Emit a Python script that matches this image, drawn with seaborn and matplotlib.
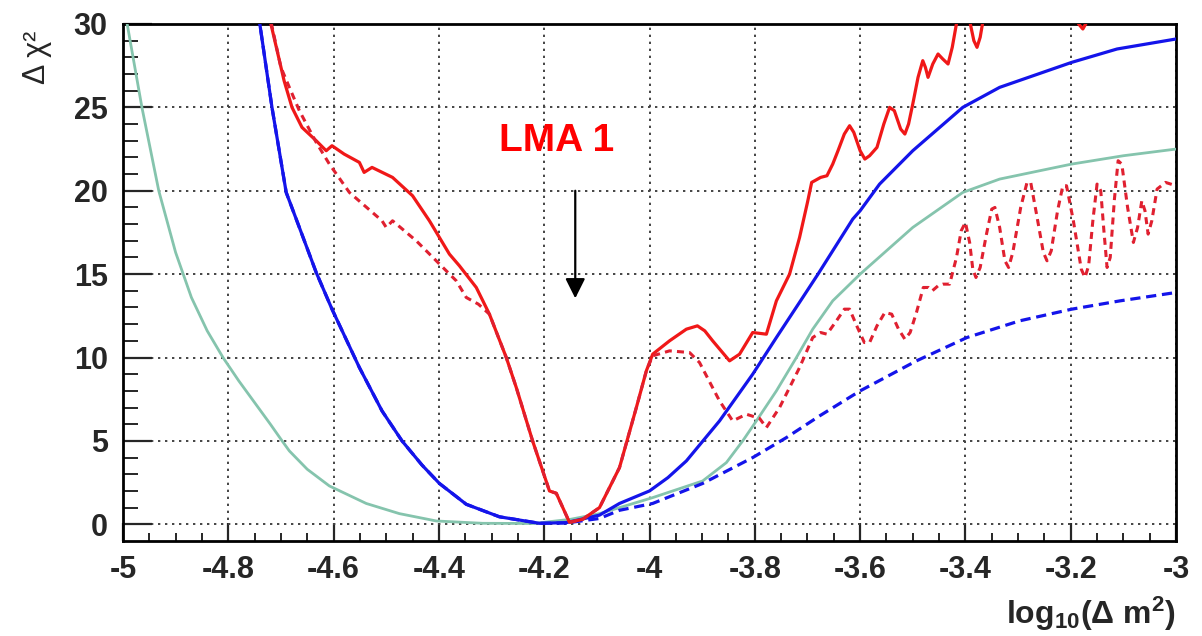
import matplotlib
matplotlib.use("Agg")
import matplotlib.pyplot as plt
import seaborn as sns
import pandas as pd

# ---------------- data ----------------
teal_x = [-5.0, -4.992, -4.964, -4.932, -4.90, -4.87, -4.84, -4.81, -4.78, -4.75, -4.72,
          -4.70, -4.684, -4.65, -4.608, -4.538, -4.475, -4.405, -4.317, -4.22, -4.15,
          -4.095, -4.057, -3.994, -3.899, -3.854, -3.823, -3.797, -3.759, -3.721, -3.69,
          -3.652, -3.60, -3.50, -3.405, -3.335, -3.198, -3.10, -3.0]
teal_y = [31.2, 30.0, 25.0, 20.0, 16.3, 13.6, 11.6, 10.0, 8.6, 7.3, 6.0,
          5.1, 4.4, 3.3, 2.3, 1.25, 0.64, 0.2, 0.06, 0.05, 0.3,
          0.64, 1.0, 1.6, 2.6, 3.7, 5.0, 6.2, 8.0, 10.0, 11.7,
          13.4, 15.0, 17.8, 19.9, 20.7, 21.6, 22.1, 22.5]

blue_x = [-4.76, -4.741, -4.717, -4.69, -4.665, -4.633, -4.603, -4.551, -4.508,
          -4.47, -4.432, -4.399, -4.348, -4.285, -4.209, -4.158, -4.095, -4.057, -4.0,
          -3.965, -3.93, -3.867, -3.804, -3.759, -3.709, -3.68, -3.614, -3.60, -3.563,
          -3.50, -3.405, -3.335, -3.198, -3.112, -3.0]
blue_y = [32.5, 30.2, 25.0, 19.9, 17.8, 15.1, 12.9, 9.4, 6.8,
          5.0, 3.55, 2.45, 1.2, 0.45, 0.06, 0.1, 0.55, 1.25, 2.0,
          2.8, 3.8, 6.2, 9.0, 11.2, 13.6, 15.0, 18.3, 18.8, 20.4,
          22.4, 25.0, 26.2, 27.7, 28.5, 29.1]

bluedash_x = [-4.76, -4.741, -4.717, -4.69, -4.665, -4.633, -4.603, -4.551, -4.508,
              -4.47, -4.432, -4.399, -4.348, -4.285, -4.209, -4.158, -4.095, -4.057, -3.994,
              -3.899, -3.804, -3.74, -3.677, -3.60, -3.493, -3.397, -3.297, -3.198, -3.106,
              -3.0]
bluedash_y = [32.5, 30.2, 25.0, 19.9, 17.8, 15.1, 12.9, 9.4, 6.8,
              5.0, 3.55, 2.45, 1.2, 0.45, 0.06, 0.08, 0.35, 0.84, 1.25,
              2.45, 4.0, 5.2, 6.5, 8.0, 9.8, 11.2, 12.2, 12.9, 13.4,
              13.9]

red_x = [-4.74, -4.719, -4.694, -4.679, -4.66, -4.633, -4.614, -4.603, -4.58, -4.551,
         -4.542, -4.527, -4.488, -4.45, -4.418, -4.399, -4.38, -4.361, -4.329, -4.304,
         -4.272, -4.253, -4.222, -4.19, -4.177, -4.152, -4.127, -4.095, -4.057, -4.025,
         -4.006, -3.994, -3.962, -3.93, -3.909, -3.895, -3.88, -3.848, -3.829, -3.804,
         -3.778, -3.759, -3.734, -3.715, -3.70, -3.692, -3.675, -3.663, -3.652, -3.642,
         -3.63, -3.62, -3.612, -3.60, -3.591, -3.582, -3.568, -3.555, -3.544, -3.535,
         -3.523, -3.515, -3.508, -3.50, -3.49, -3.481, -3.476, -3.471, -3.462, -3.452,
         -3.443, -3.433, -3.425, -3.416, -3.405, -3.392, -3.384, -3.378, -3.372, -3.366,
         -3.35, -3.30, -3.20, -3.185, -3.177, -3.168, -3.10, -3.0]
red_y = [33.0, 30.0, 26.6, 25.0, 23.8, 23.0, 22.4, 22.7, 22.2, 21.7,
         21.1, 21.4, 20.8, 19.7, 18.2, 17.2, 16.2, 15.5, 14.2, 12.6,
         10.0, 8.2, 5.0, 2.0, 1.86, 0.12, 0.3, 1.0, 3.4, 7.0,
         9.2, 10.2, 11.0, 11.7, 11.9, 11.6, 11.0, 9.8, 10.2, 11.5,
         11.4, 13.4, 15.0, 17.2, 19.3, 20.5, 20.8, 20.9, 21.6, 22.4,
         23.4, 23.9, 23.5, 22.4, 21.9, 22.1, 22.6, 24.0, 25.0, 24.8,
         23.7, 23.4, 24.0, 25.2, 26.8, 27.8, 27.4, 26.8, 27.6, 28.2,
         27.9, 27.6, 28.6, 30.2, 31.3, 30.2, 29.0, 28.6, 29.2, 30.3,
         33.0, 36.0, 31.5, 30.0, 29.7, 30.2, 38.0, 40.0]

reddash_x = [-4.74, -4.718, -4.70, -4.684, -4.665, -4.633, -4.608, -4.57, -4.508, -4.50,
             -4.488, -4.443, -4.405, -4.367, -4.348, -4.325, -4.304, -4.272, -4.253, -4.222,
             -4.19, -4.177, -4.152, -4.127, -4.095, -4.057, -4.025, -4.006, -3.994, -3.962,
             -3.924, -3.905, -3.867, -3.842, -3.816, -3.791, -3.778, -3.753, -3.715, -3.69,
             -3.675, -3.663, -3.645, -3.63, -3.62, -3.605, -3.592, -3.582, -3.568, -3.553,
             -3.54, -3.527, -3.515, -3.505, -3.493, -3.48, -3.47, -3.463, -3.452, -3.443,
             -3.43, -3.417, -3.408, -3.40, -3.392, -3.386, -3.38, -3.372, -3.36, -3.35,
             -3.344, -3.335, -3.325, -3.318, -3.31, -3.295, -3.283, -3.276, -3.265, -3.252,
             -3.245, -3.237, -3.225, -3.215, -3.208, -3.195, -3.18, -3.173, -3.166, -3.158,
             -3.15, -3.143, -3.137, -3.131, -3.125, -3.117, -3.11, -3.103, -3.092, -3.081,
             -3.073, -3.065, -3.059, -3.053, -3.046, -3.036, -3.02, -3.0]
reddash_y = [33.0, 30.0, 27.4, 26.2, 24.8, 22.9, 21.6, 19.9, 18.2, 17.8,
             18.2, 17.0, 15.8, 14.6, 13.6, 13.2, 12.6, 10.0, 8.2, 5.0,
             2.0, 1.86, 0.12, 0.3, 1.0, 3.4, 7.0, 9.2, 10.1, 10.4,
             10.3, 9.7, 7.4, 6.2, 6.6, 6.35, 5.8, 7.0, 9.4, 11.2,
             11.5, 11.4, 12.2, 12.9, 12.9, 11.8, 10.9, 10.9, 11.9, 12.7,
             12.6, 11.7, 11.1, 11.5, 12.7, 14.2, 14.2, 14.0, 14.3, 14.4,
             14.4, 16.0, 17.6, 18.1, 16.9, 15.3, 14.8, 15.4, 17.4, 18.9,
             19.0, 17.8, 15.8, 15.4, 16.3, 19.0, 20.5, 20.5, 18.6, 16.3,
             15.8, 16.4, 18.8, 20.3, 20.3, 18.2, 15.3, 14.8, 15.5, 18.2,
             20.4, 20.0, 17.6, 15.4, 16.0, 19.5, 21.8, 21.6, 19.0, 16.9,
             17.8, 19.4, 18.8, 17.4, 18.2, 20.1, 20.5, 20.3]

x_ticks = [-5.0, -4.8, -4.6, -4.4, -4.2, -4.0, -3.8, -3.6, -3.4, -3.2, -3.0]
x_tick_labels = ["-5", "-4.8", "-4.6", "-4.4", "-4.2", "-4", "-3.8", "-3.6", "-3.4", "-3.2", "-3"]
y_ticks = [0, 5, 10, 15, 20, 25, 30]
y_tick_labels = ["0", "5", "10", "15", "20", "25", "30"]

annotation_text = "LMA 1"
x_label = r"log$_{\mathrm{10}}$($\Delta$ m$^{\mathrm{2}}$)"
y_label = "Δ χ²"

# ---------------- style ----------------
sns.set_style("white")
plt.rcParams["font.family"] = ["Liberation Sans", "DejaVu Sans"]
plt.rcParams["mathtext.fontset"] = "custom"
plt.rcParams["mathtext.rm"] = "Liberation Sans:bold"
plt.rcParams["mathtext.it"] = "Liberation Sans:bold"
plt.rcParams["mathtext.bf"] = "Liberation Sans:bold"

RED = "#f01818"
REDD = "#e02030"
BLUE = "#1414ea"
TEAL = "#85c4ad"

fig = plt.figure(figsize=(12.02, 6.36), dpi=100)
ax = fig.add_axes([0.1023, 0.1494, 0.8761, 0.8129])

def frame(xs, ys):
    return pd.DataFrame({"x": xs, "y": ys})

common = dict(x="x", y="y", ax=ax, estimator=None, sort=False)
sns.lineplot(data=frame(teal_x, teal_y), color=TEAL, lw=2.0, zorder=3, **common)
sns.lineplot(data=frame(blue_x, blue_y), color=BLUE, lw=2.3, zorder=4, **common)
sns.lineplot(data=frame(bluedash_x, bluedash_y), color=BLUE, lw=2.3,
             linestyle=(0, (3.2, 1.8)), zorder=5, **common)
sns.lineplot(data=frame(red_x, red_y), color=RED, lw=2.3, zorder=6, **common)
sns.lineplot(data=frame(reddash_x, reddash_y), color=REDD, lw=2.2,
             linestyle=(0, (2.3, 1.7)), zorder=7, **common)

ax.set_xlim(-5.0, -3.0)
ax.set_ylim(-1.0, 30.0)
ax.set_xticks(x_ticks)
ax.set_xticklabels(x_tick_labels)
ax.set_yticks(y_ticks)
ax.set_yticklabels(y_tick_labels)
ax.set_xticks([-5 + 0.05 * i for i in range(41)], minor=True)
ax.set_yticks(list(range(0, 31)), minor=True)

for lab in ax.get_xticklabels() + ax.get_yticklabels():
    lab.set_fontweight("bold")

ax.tick_params(axis="y", which="major", direction="in", length=21, width=1.6,
               pad=11, labelsize=22, left=True, right=False)
ax.tick_params(axis="y", which="minor", direction="in", length=11, width=1.4,
               left=True, right=False)
ax.tick_params(axis="x", which="major", direction="in", length=13, width=1.6,
               pad=10, labelsize=22, bottom=True, top=False)
ax.tick_params(axis="x", which="minor", direction="in", length=6, width=1.4,
               bottom=True, top=False)

ax.grid(True, which="major", linestyle=(0, (1.2, 2.4)), color="#444444", lw=1.4)
ax.grid(False, which="minor")
ax.set_axisbelow(True)

for s in ax.spines.values():
    s.set_visible(True)
    s.set_color("black")
    s.set_linewidth(2.0)

ax.set_xlabel("")
ax.set_ylabel("")

# annotation
ax.text(-4.177, 23.0, annotation_text, color="#ff0000", fontsize=28,
        fontweight="bold", ha="center", va="center", zorder=8)
ax.annotate("", xy=(-4.141, 13.55), xytext=(-4.141, 20.0),
            arrowprops=dict(arrowstyle="-|>,head_length=0.6,head_width=0.3",
                            color="black", lw=1.6, shrinkA=0, shrinkB=0,
                            mutation_scale=20), zorder=8)

# axis labels
fig.text(1176 / 1202, (636 - 614) / 636, x_label, ha="right", va="center",
         fontsize=23, fontweight="bold")
fig.text(37 / 1202, (636 - 57) / 636, y_label, ha="center", va="center",
         fontsize=22, rotation=90)

fig.savefig("out.png", dpi=100)
